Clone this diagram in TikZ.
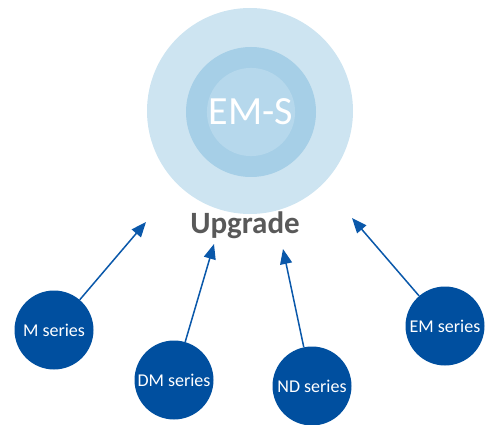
\documentclass[tikz,border=0pt]{standalone}
\usepackage{fontspec}
\setmainfont{Carlito}
\usetikzlibrary{arrows.meta}
\definecolor{ringout}{HTML}{CDE4F1}
\definecolor{ringmid}{HTML}{A6CFE7}
\definecolor{ringin}{HTML}{B6D8EC}
\definecolor{seriesblue}{HTML}{004F9F}
\definecolor{arrowblue}{HTML}{0A58AA}
\definecolor{textgray}{HTML}{595959}
\tikzset{
  series/.style={circle, fill=seriesblue, minimum size=79pt, inner sep=0pt,
    text=white, font=\fontsize{18}{21}\selectfont},
  upline/.style={arrowblue, line width=1.5pt, -{Triangle[length=15pt, width=12pt]}}
}
\begin{document}
\begin{tikzpicture}[x=1pt, y=-1pt]
\useasboundingbox (0,0) rectangle (493,425);
% EM-S rings
\node (ringo) [circle, fill=ringout, minimum size=206pt, inner sep=0pt] at (250,111) {};
\node (ringm) [circle, fill=ringmid, minimum size=130pt, inner sep=0pt] at (251,112) {};
\node (ems) [circle, fill=ringin, minimum size=88pt, inner sep=0pt, text=white,
  font=\fontsize{40}{44}\selectfont] at (251,112) {EM-S};
\node (upgrade) [text=textgray, font=\bfseries\fontsize{31}{34}\selectfont] at (245,225) {Upgrade};

% series
\node (mser) [series] at (54,330) {M series};
\node (dmser) [series] at (174,380) {DM series};
\node (ndser) [series] at (312,386) {ND series};
\node (emser) [series] at (445,326) {EM series};

\coordinate (tipm) at (146,222);
\coordinate (tipdm) at (214,244);
\coordinate (tipnd) at (283,249);
\coordinate (tipem) at (352,218);

\draw[upline] (mser) -- (tipm);
\draw[upline] (dmser) -- (tipdm);
\draw[upline] (ndser) -- (tipnd);
\draw[upline] (emser) -- (tipem);
\end{tikzpicture}
\end{document}
